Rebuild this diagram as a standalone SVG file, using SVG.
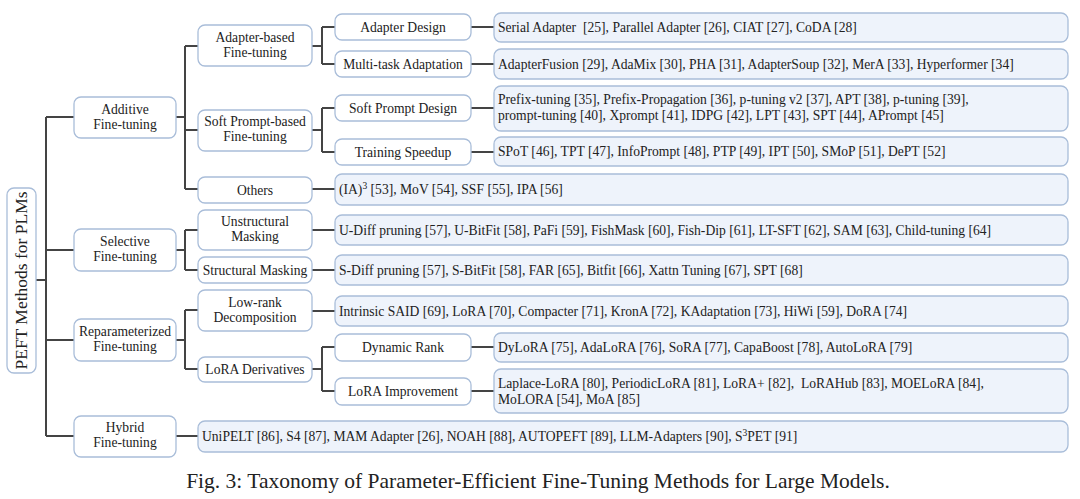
<svg xmlns="http://www.w3.org/2000/svg" width="1080" height="499" viewBox="0 0 1080 499">
<style>
text{font-family:"Liberation Serif","Times New Roman",serif;fill:#222;font-size:13.6px}
.n{fill:#fff;stroke:#a9bdd9;stroke-width:1.3}
.l{fill:#eef3fb;stroke:#a9bdd9;stroke-width:1.3}
.c{text-anchor:middle}
.w{fill:none;stroke:#444;stroke-width:2}
</style>
<rect width="1080" height="499" fill="#fff"/>
<g id="connectors">
<path class="w" d="M36 280H46M46 117V436M46 117H74M46 250H74M46 340H74M46 436H74"/>
<path class="w" d="M176 117H185M185 46V189M185 46H198M185 130H198M185 189H198"/>
<path class="w" d="M176 250H185M185 230V270M185 230H198M185 270H198"/>
<path class="w" d="M176 340H185M185 310V369M185 310H198M185 369H198"/>
<path class="w" d="M176 436H198"/>
<path class="w" d="M312 46H322M322 27V64M322 27H335M322 64H335"/>
<path class="w" d="M312 130H322M322 108V152M322 108H335M322 152H335"/>
<path class="w" d="M312 189H335M312 230H335M312 270H335M312 311H335"/>
<path class="w" d="M312 369H322M322 347V391M322 347H335M322 391H335"/>
<path class="w" d="M471 27H494M471 64H494M471 108H494M471 152H494M471 347H494M471 391H494"/>
</g>
<g id="root"><rect class="n" x="7" y="188" width="29" height="185" rx="7"/><text class="c" transform="translate(27 280.5) rotate(-90)" style="font-size:17.5px">PEFT Methods for PLMs</text></g>
<g id="additive"><rect class="n" x="74" y="97" width="102" height="41" rx="7"/><text class="c" x="125" y="113.5">Additive</text><text class="c" x="125" y="128.5">Fine-tuning</text></g>
<g id="selective"><rect class="n" x="74" y="229" width="102" height="42" rx="7"/><text class="c" x="125" y="245.5">Selective</text><text class="c" x="125" y="260.5">Fine-tuning</text></g>
<g id="reparam"><rect class="n" x="74" y="319" width="102" height="42" rx="7"/><text class="c" x="125" y="335.5">Reparameterized</text><text class="c" x="125" y="350.5">Fine-tuning</text></g>
<g id="hybrid"><rect class="n" x="74" y="416" width="102" height="41" rx="7"/><text class="c" x="125" y="432">Hybrid</text><text class="c" x="125" y="447">Fine-tuning</text></g>
<g id="adapter-based"><rect class="n" x="198" y="25" width="114" height="41" rx="7"/><text class="c" x="255" y="41.5">Adapter-based</text><text class="c" x="255" y="56.5">Fine-tuning</text></g>
<g id="soft-prompt-based"><rect class="n" x="198" y="110" width="114" height="41" rx="7"/><text class="c" x="255" y="126">Soft Prompt-based</text><text class="c" x="255" y="141">Fine-tuning</text></g>
<g id="others"><rect class="n" x="198" y="177" width="114" height="26" rx="7"/><text class="c" x="255" y="194.5">Others</text></g>
<g id="unstructural"><rect class="n" x="198" y="210" width="114" height="40" rx="7"/><text class="c" x="255" y="226">Unstructural</text><text class="c" x="255" y="241">Masking</text></g>
<g id="structural"><rect class="n" x="198" y="257" width="114" height="26" rx="7"/><text class="c" x="255" y="274.5">Structural Masking</text></g>
<g id="low-rank"><rect class="n" x="198" y="290" width="114" height="41" rx="7"/><text class="c" x="255" y="306.5">Low-rank</text><text class="c" x="255" y="321.5">Decomposition</text></g>
<g id="lora-derivatives"><rect class="n" x="198" y="357" width="114" height="25" rx="7"/><text class="c" x="255" y="374">LoRA Derivatives</text></g>
<g id="adapter-design"><rect class="n" x="335" y="14" width="136" height="26" rx="7"/><text class="c" x="403" y="31.5">Adapter Design</text></g>
<g id="multi-task"><rect class="n" x="335" y="51" width="136" height="26" rx="7"/><text class="c" x="403" y="68.5">Multi-task Adaptation</text></g>
<g id="soft-prompt-design"><rect class="n" x="335" y="95" width="136" height="26" rx="7"/><text class="c" x="403" y="112.5">Soft Prompt Design</text></g>
<g id="training-speedup"><rect class="n" x="335" y="139" width="136" height="26" rx="7"/><text class="c" x="403" y="156.5">Training Speedup</text></g>
<g id="dynamic-rank"><rect class="n" x="335" y="334" width="136" height="27" rx="7"/><text class="c" x="403" y="351.5">Dynamic Rank</text></g>
<g id="lora-improvement"><rect class="n" x="335" y="378" width="136" height="27" rx="7"/><text class="c" x="403" y="395.5">LoRA Improvement</text></g>
<g id="leaf-adapter-design"><rect class="l" x="494" y="13" width="574" height="29" rx="7"/><text x="498" y="32" xml:space="preserve">Serial Adapter  [25], Parallel Adapter [26], CIAT [27], CoDA [28]</text></g>
<g id="leaf-multi-task"><rect class="l" x="494" y="49" width="574" height="30" rx="7"/><text x="498" y="68.5">AdapterFusion [29], AdaMix [30], PHA [31], AdapterSoup [32], MerA [33], Hyperformer [34]</text></g>
<g id="leaf-soft-prompt"><rect class="l" x="494" y="86" width="574" height="45" rx="7"/><text x="498" y="103.5">Prefix-tuning [35], Prefix-Propagation [36], p-tuning v2 [37], APT [38], p-tuning [39],</text><text x="498" y="119.5">prompt-tuning [40], Xprompt [41], IDPG [42], LPT [43], SPT [44], APrompt [45]</text></g>
<g id="leaf-training-speedup"><rect class="l" x="494" y="137" width="574" height="29" rx="7"/><text x="498" y="156">SPoT [46], TPT [47], InfoPrompt [48], PTP [49], IPT [50], SMoP [51], DePT [52]</text></g>
<g id="leaf-others"><rect class="l" x="335" y="174" width="733" height="31" rx="7"/><text x="339" y="194">(IA)<tspan dy="-5" style="font-size:9.5px">3</tspan><tspan dy="5"> [53], MoV [54], SSF [55], IPA [56]</tspan></text></g>
<g id="leaf-unstructural"><rect class="l" x="335" y="215" width="733" height="30" rx="7"/><text x="339" y="234.5">U-Diff pruning [57], U-BitFit [58], PaFi [59], FishMask [60], Fish-Dip [61], LT-SFT [62], SAM [63], Child-tuning [64]</text></g>
<g id="leaf-structural"><rect class="l" x="335" y="255" width="733" height="30" rx="7"/><text x="339" y="274.5">S-Diff pruning [57], S-BitFit [58], FAR [65], Bitfit [66], Xattn Tuning [67], SPT [68]</text></g>
<g id="leaf-low-rank"><rect class="l" x="335" y="296" width="733" height="30" rx="7"/><text x="339" y="315.5">Intrinsic SAID [69], LoRA [70], Compacter [71], KronA [72], KAdaptation [73], HiWi [59], DoRA [74]</text></g>
<g id="leaf-dynamic-rank"><rect class="l" x="494" y="333" width="574" height="29" rx="7"/><text x="498" y="352">DyLoRA [75], AdaLoRA [76], SoRA [77], CapaBoost [78], AutoLoRA [79]</text></g>
<g id="leaf-lora-improvement"><rect class="l" x="494" y="369" width="574" height="44" rx="7"/><text x="498" y="387.5" xml:space="preserve">Laplace-LoRA [80], PeriodicLoRA [81], LoRA+ [82],  LoRAHub [83], MOELoRA [84],</text><text x="498" y="403.5">MoLORA [54], MoA [85]</text></g>
<g id="leaf-hybrid"><rect class="l" x="198" y="421" width="870" height="31" rx="7"/><text x="202" y="441">UniPELT [86], S4 [87], MAM Adapter [26], NOAH [88], AUTOPEFT [89], LLM-Adapters [90], S<tspan dy="-5" style="font-size:9.5px">3</tspan><tspan dy="5">PET [91]</tspan></text></g>
<text id="caption" class="c" x="538" y="488" style="font-size:21.5px">Fig. 3: Taxonomy of Parameter-Efficient Fine-Tuning Methods for Large Models.</text>
</svg>
